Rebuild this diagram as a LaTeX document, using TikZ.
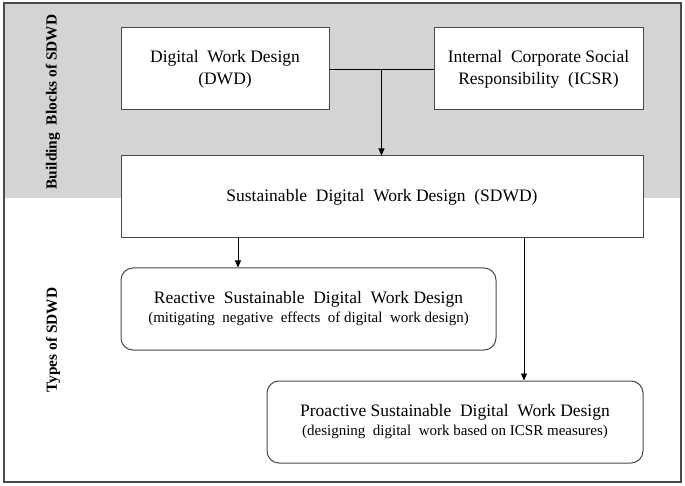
\documentclass[tikz,border=0pt]{standalone}
\usepackage{fontspec}
\setmainfont{Liberation Serif}
\usetikzlibrary{arrows.meta,calc}
\definecolor{bandgray}{HTML}{D4D4D4}
\definecolor{linegray}{HTML}{4A4A4A}
\tikzset{
  sqbox/.style={draw=linegray, line width=1pt, fill=white, align=center, inner sep=0pt,
    minimum height=82pt, font=\fontsize{17.5}{22}\selectfont},
  rbox/.style={sqbox, rounded corners=12pt},
  conn/.style={draw=black, line width=0.9pt},
  arr/.style={conn, -{Triangle[width=6pt,length=7pt]}},
  sidelabel/.style={rotate=90, font=\fontsize{15.4}{18}\selectfont\bfseries},
  subline/.style={}
}
\newcommand{\subfont}{\fontsize{15}{17}\selectfont}
\begin{document}
\begin{tikzpicture}[x=1pt,y=-1pt]
\useasboundingbox (0,0) rectangle (685,486);
\fill[bandgray] (4,3) rectangle (681,198);
\draw[linegray, line width=1.3pt] (4,3) rectangle (681,482);
\node[sidelabel] (lab1) at (53,102) {Building\ \ Blocks of SDWD};
\node[sidelabel] (lab2) at (53,340) {Types of SDWD};
\node[sqbox, minimum width=208pt] (dwd) at (225,69) {Digital\ \ Work Design\\(DWD)};
\node[sqbox, minimum width=209pt] (icsr) at (538.5,69) {Internal\ \ Corporate Social\\Responsibility\ \ (ICSR)};
\node[sqbox, minimum width=522pt] (sdwd) at (382,197) {Sustainable\ \ Digital\ \ Work Design\ \ (SDWD)};
\node[rbox, minimum width=375pt] (rea) at (308.5,309) {Reactive\ \ Sustainable\ \ Digital\ \ Work Design\\[-3pt]{\subfont (mitigating\ \ negative\ \ effects\ \ of digital\ \ work design)}};
\node[rbox, minimum width=376pt] (pro) at (455,422) {Proactive Sustainable\ \ Digital\ \ Work Design\\[-3pt]{\subfont (designing\ \ digital\ \ work based on ICSR measures)}};
\coordinate (j) at ($(dwd.east)!0.5!(icsr.west)$);
\coordinate (xa) at (238,0);
\coordinate (xb) at (524,0);
\draw[conn] (dwd.east) -- (icsr.west);
\draw[arr] (j) -- (sdwd.north -| j);
\draw[arr] (sdwd.south -| xa) -- (rea.north -| xa);
\draw[arr] (sdwd.south -| xb) -- (pro.north -| xb);
\end{tikzpicture}
\end{document}
